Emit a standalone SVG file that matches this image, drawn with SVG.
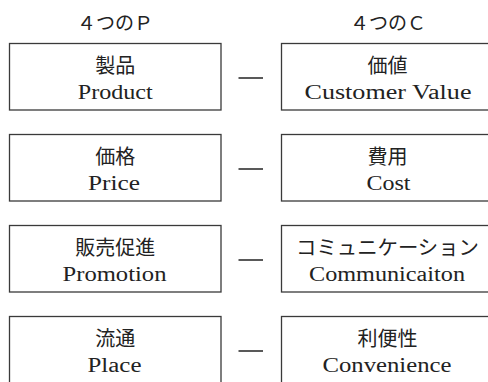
<svg xmlns="http://www.w3.org/2000/svg" width="488" height="382" viewBox="0 0 488 382">
<style>
.box{fill:#fff;stroke:#3a3a3a;stroke-width:1.3}
.jp{font-family:"Noto Sans CJK JP","Noto Sans",sans-serif;font-size:20px;fill:#222;text-anchor:middle}
.en{font-family:"Liberation Serif","Times New Roman",serif;font-size:20.5px;fill:#222;text-anchor:middle}
.hd{font-family:"Noto Sans CJK JP","Noto Sans",sans-serif;font-size:19px;fill:#222;text-anchor:middle}
.dash{stroke:#222;stroke-width:1.5}
</style>
<rect width="488" height="382" fill="#fff"/>
<g id="headers">
<text class="hd" x="115" y="29.5">４つのＰ</text>
<text class="hd" x="388" y="29.5">４つのＣ</text>
</g>
<g id="product">
<rect class="box" x="9.5" y="43.5" width="211.5" height="66.5"/>
<text class="jp" x="115.25" y="73">製品</text>
<text class="en" x="115.25" y="98.5" textLength="75" lengthAdjust="spacingAndGlyphs">Product</text>
</g>
<g id="value">
<rect class="box" x="281.5" y="43.5" width="211.5" height="66.5"/>
<text class="jp" x="387.5" y="73">価値</text>
<text class="en" x="388" y="98.5" textLength="167" lengthAdjust="spacingAndGlyphs">Customer Value</text>
</g>
<g id="price">
<rect class="box" x="9.5" y="134.5" width="211.5" height="66.5"/>
<text class="jp" x="115.25" y="164">価格</text>
<text class="en" x="114" y="189.5" textLength="52" lengthAdjust="spacingAndGlyphs">Price</text>
</g>
<g id="cost">
<rect class="box" x="281.5" y="134.5" width="211.5" height="66.5"/>
<text class="jp" x="387.5" y="164">費用</text>
<text class="en" x="388.5" y="189.5" textLength="44" lengthAdjust="spacingAndGlyphs">Cost</text>
</g>
<g id="promotion">
<rect class="box" x="9.5" y="225.5" width="211.5" height="66.5"/>
<text class="jp" x="115.25" y="255">販売促進</text>
<text class="en" x="114.5" y="280.5" textLength="104" lengthAdjust="spacingAndGlyphs">Promotion</text>
</g>
<g id="communication">
<rect class="box" x="281.5" y="225.5" width="211.5" height="66.5"/>
<text class="jp" x="387.5" y="255" textLength="183" lengthAdjust="spacingAndGlyphs">コミュニケーション</text>
<text class="en" x="387" y="280.5" textLength="156" lengthAdjust="spacingAndGlyphs">Communicaiton</text>
</g>
<g id="place">
<rect class="box" x="9.5" y="316.5" width="211.5" height="66.5"/>
<text class="jp" x="115.25" y="346">流通</text>
<text class="en" x="114.5" y="371.5" textLength="54" lengthAdjust="spacingAndGlyphs">Place</text>
</g>
<g id="convenience">
<rect class="box" x="281.5" y="316.5" width="211.5" height="66.5"/>
<text class="jp" x="387.5" y="346">利便性</text>
<text class="en" x="387" y="371.5" textLength="129" lengthAdjust="spacingAndGlyphs">Convenience</text>
</g>
<g id="connectors">
<line class="dash" x1="238.5" y1="78" x2="263" y2="78"/>
<line class="dash" x1="238.5" y1="169" x2="263" y2="169"/>
<line class="dash" x1="238.5" y1="260" x2="263" y2="260"/>
<line class="dash" x1="238.5" y1="351" x2="263" y2="351"/>
</g>
</svg>
